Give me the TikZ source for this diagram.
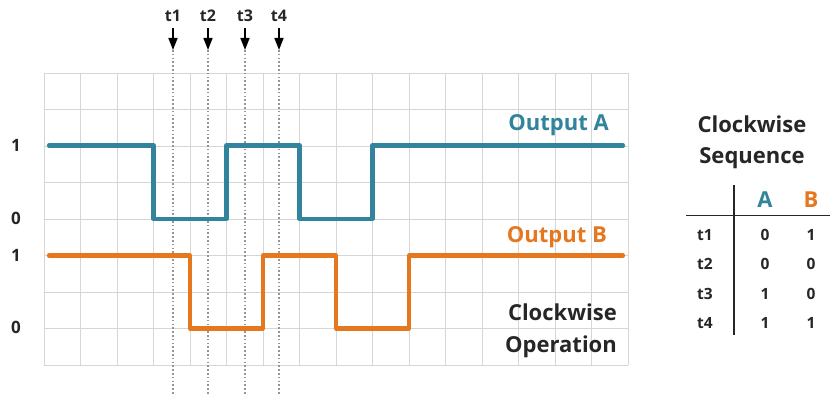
\documentclass[tikz,border=0pt]{standalone}
\usepackage{fontspec}
\setmainfont{Open Sans}
\usetikzlibrary{arrows.meta}
\definecolor{teal}{HTML}{31849B}
\definecolor{orng}{HTML}{E5771E}
\definecolor{gridc}{HTML}{D6D6D6}
\definecolor{txt}{HTML}{262626}
\definecolor{dotc}{HTML}{959595}
\tikzset{
  gridline/.style={draw=gridc, line width=0.9pt},
  sigA/.style={draw=teal, line width=4.2pt, line join=round, line cap=round},
  sigB/.style={draw=orng, line width=4.2pt, line join=round, line cap=round},
  marker/.style={draw=dotc, line width=1.2pt, dash pattern=on 1.6pt off 2.2pt},
  tarrow/.style={draw=black, line width=1.6pt, -{Triangle[width=9pt,length=12pt]}},
  lbl/.style={font=\bfseries\fontsize{17}{19}\selectfont, text=txt, inner sep=0pt},
  tlbl/.style={font=\bfseries\fontsize{16}{18}\selectfont, text=txt, inner sep=0pt},
  big/.style={font=\bfseries\fontsize{22}{31.5}\selectfont, inner sep=0pt},
  cell/.style={font=\bfseries\fontsize{15.5}{17}\selectfont, text=txt, inner sep=0pt},
  head/.style={font=\bfseries\fontsize{22}{24}\selectfont, inner sep=0pt},
}
\begin{document}
\begin{tikzpicture}[x=1pt,y=-1pt]
\useasboundingbox (0,0) rectangle (830,396);
\fill[white] (0,0) rectangle (830,396);
% grid
\foreach \i in {0,...,16} \draw[gridline] ({44+\i*36.5},73) -- ({44+\i*36.5},365);
\foreach \j in {0,...,8} \draw[gridline] (44,{73+\j*36.5}) -- (628,{73+\j*36.5});
% level labels
\node[lbl] (a1) at (16,145) {1};
\node[lbl] (a0) at (16,218) {0};
\node[lbl] (b1) at (16,255) {1};
\node[lbl] (b0) at (16,327) {0};
% time markers
\foreach \n/\x in {1/173,2/208,3/245,4/279}{
  \node[tlbl] (t\n) at (\x,16) {t\n};
  \coordinate (ts\n) at (\x,28);
  \coordinate (te\n) at (\x,50);
  \coordinate (tb\n) at (\x,396);
  \draw[marker] (te\n) -- (tb\n);
  \draw[tarrow] (ts\n) -- (te\n);
}
% signals
\draw[sigA] (49,145.5) -- (153.5,145.5) -- (153.5,219) -- (226.5,219) -- (226.5,145.5)
  -- (299.5,145.5) -- (299.5,219) -- (372.5,219) -- (372.5,145.5) -- (623,145.5);
\draw[sigB] (49,255.5) -- (190,255.5) -- (190,328.5) -- (263,328.5) -- (263,255.5)
  -- (336,255.5) -- (336,328.5) -- (409,328.5) -- (409,255.5) -- (623,255.5);
% labels
\node[big, text=teal, anchor=east] (oa) at (609,125) {Output A};
\node[big, text=orng, anchor=east] (ob) at (607,237) {Output B};
\node[big, text=txt, anchor=east, align=right] (cw) at (617,331) {Clockwise\\Operation};
% table
\node[big, text=txt, align=center] (seq) at (752,142.5) {Clockwise\\Sequence};
\node[head, text=teal] (hA) at (765,200) {A};
\node[head, text=orng] (hB) at (811,200) {B};
\coordinate (hl) at (686,215.5);
\coordinate (hr) at (830,215.5);
\coordinate (vt) at (734,185);
\coordinate (vb) at (734,335);
\draw[line width=1.6pt, draw=txt] (hl) -- (hr);
\draw[line width=1.6pt, draw=txt] (vt) -- (vb);
\foreach \r/\y/\va/\vb in {1/235/0/1,2/264/0/0,3/294/1/0,4/323/1/1}{
  \node[cell] (r\r) at (705,\y) {t\r};
  \node[cell] (ra\r) at (765,\y) {\va};
  \node[cell] (rb\r) at (811,\y) {\vb};
}
\end{tikzpicture}
\end{document}
